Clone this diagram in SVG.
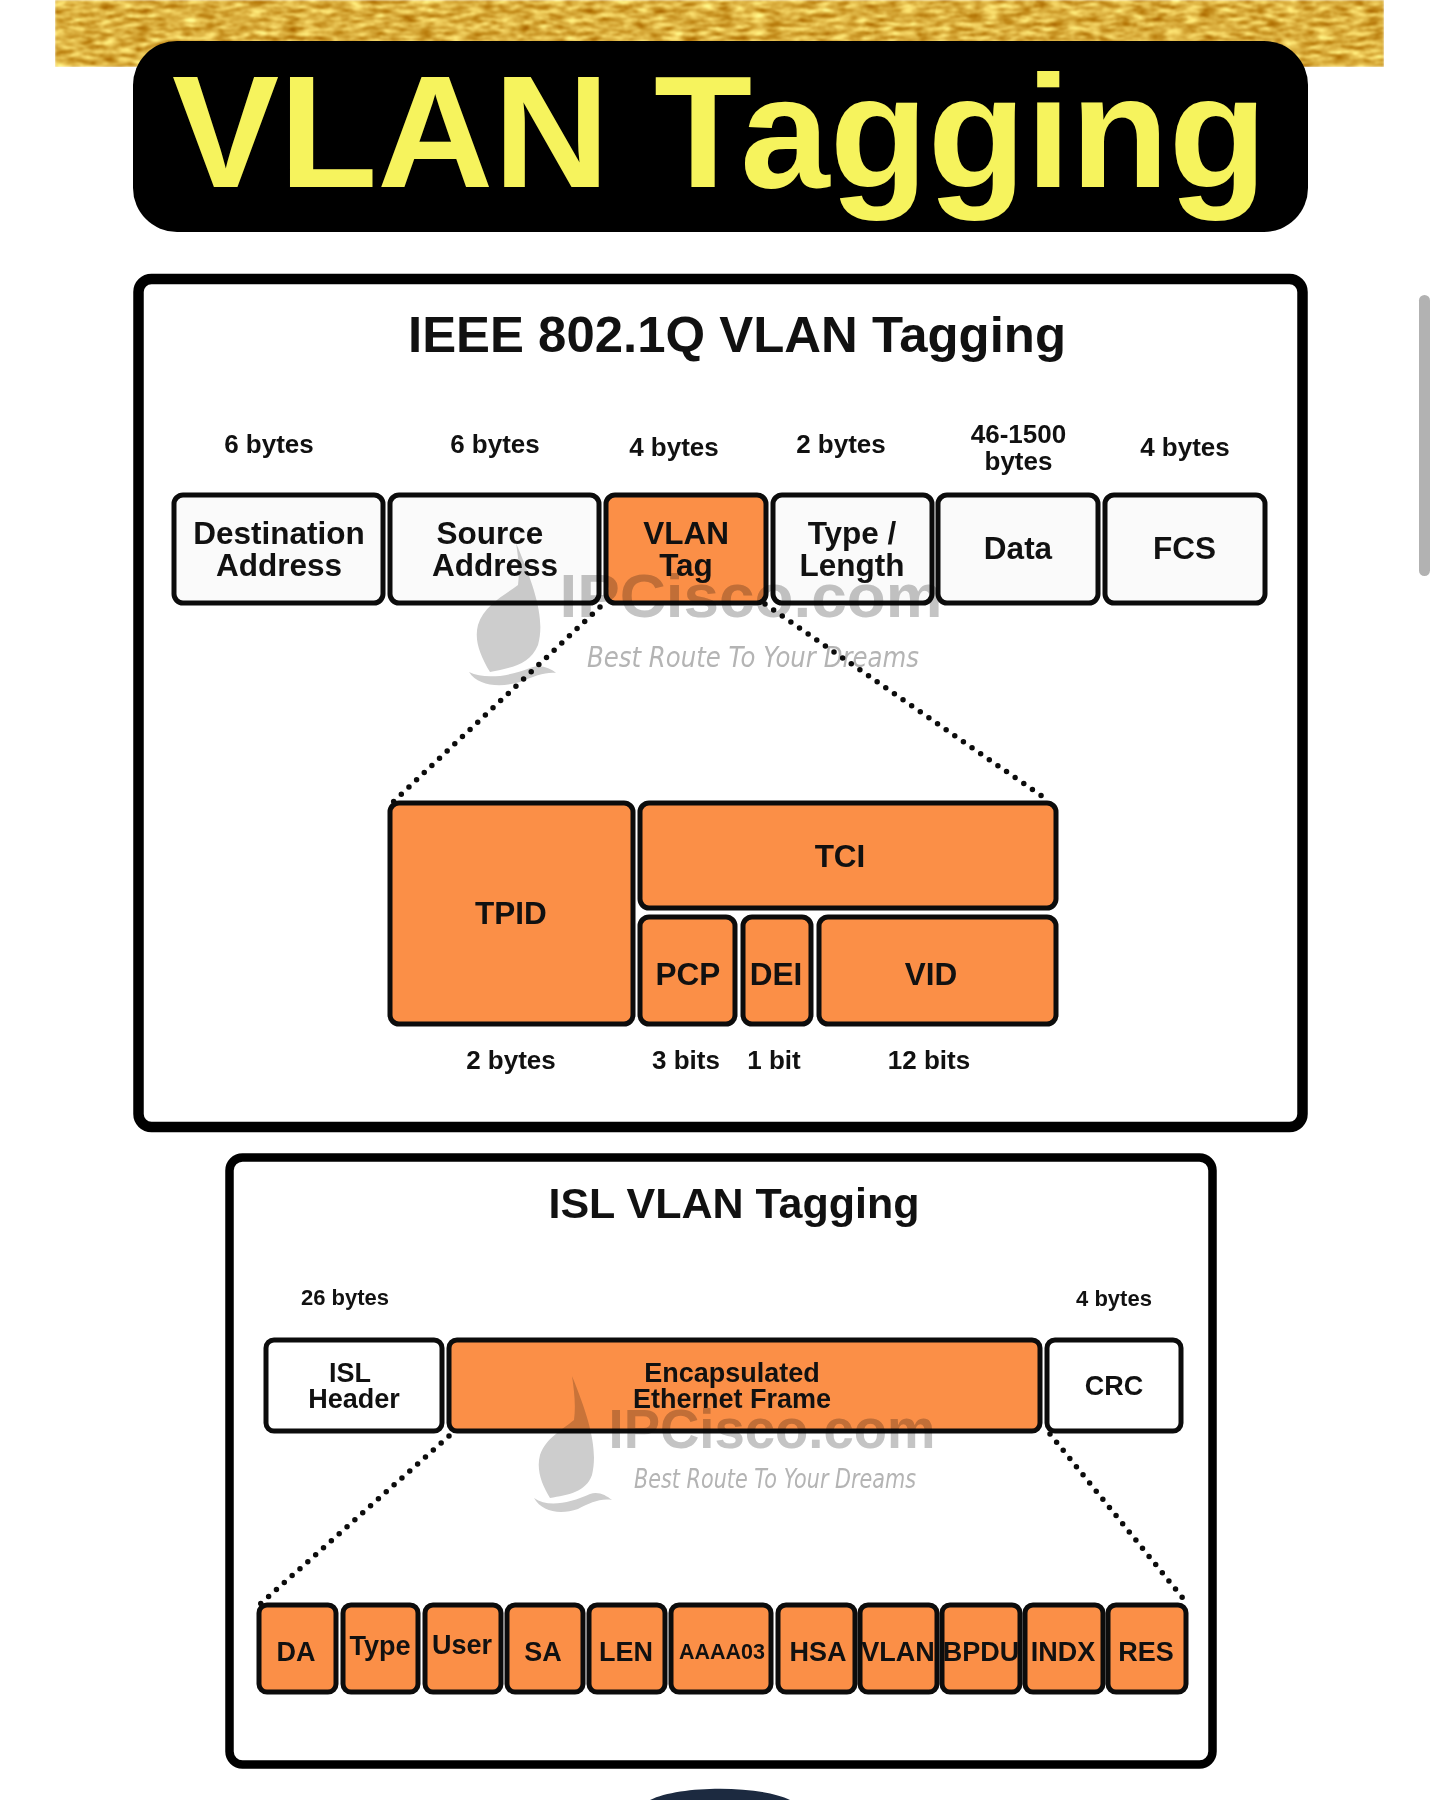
<svg xmlns="http://www.w3.org/2000/svg" width="1440" height="1813" viewBox="0 0 1440 1813">
<defs>
<filter id="gold" x="0" y="0" width="100%" height="100%" color-interpolation-filters="sRGB"><feTurbulence type="fractalNoise" baseFrequency="0.06 0.22" numOctaves="4" seed="11"/><feColorMatrix values="0.6 0 0 0 0.56  0.9 0 0 0 0.24  0.9 0 0 0 -0.2  0 0 0 0 1"/><feGaussianBlur stdDeviation="0.8"/></filter>
</defs>
<style>
text{font-family:"Liberation Sans",Arial,sans-serif;font-weight:700;fill:#111;text-anchor:middle}
.w{fill:#fafafa;stroke:#0c0c0c;stroke-width:5}
.wh{fill:#fff;stroke:#0c0c0c;stroke-width:5}
.o{fill:#fb8f47;stroke:#0c0c0c;stroke-width:5}
.p1{fill:#fff;stroke:#000;stroke-width:10.5}
.p2{fill:#fff;stroke:#000;stroke-width:8.5}
.lab{font-size:31.5px}
.sz{font-size:26px}
.sm{font-size:22px}
.mid{font-size:27px}
.tiny{font-size:27px}
.dots{fill:none;stroke:#0c0c0c;stroke-width:5.5;stroke-linecap:round;stroke-dasharray:0 10.5}
.wm{fill:#cdcdcd;mix-blend-mode:multiply}
.wmt{fill:#c4c4c4;mix-blend-mode:multiply}
.hand{fill:#b4b4b4;font-family:"DejaVu Sans",sans-serif;font-style:italic;font-weight:400}
</style>
<rect width="1440" height="1813" fill="#fff"/>
<g id="banner">
<rect x="55" y="0" width="1329" height="67" filter="url(#gold)"/>
<rect x="133" y="41" width="1175" height="191" rx="44" fill="#000"/>
<text x="719.5" y="187" font-size="160" style="fill:#f6f35d" textLength="1095" lengthAdjust="spacingAndGlyphs">VLAN Tagging</text>
</g>
<rect x="1419" y="295" width="11" height="281" rx="5.5" fill="#b2b2b2"/>
<g id="panel-8021q">
<rect class="p1" x="138.500" y="279" width="1164" height="848" rx="13"/>
<text x="737" y="352" font-size="50" textLength="658" lengthAdjust="spacingAndGlyphs">IEEE 802.1Q VLAN Tagging</text>
</g>
<g id="panel-isl">
<rect class="p2" x="229.500" y="1157.500" width="983" height="607" rx="13"/>
<text x="734" y="1218" font-size="43">ISL VLAN Tagging</text>
</g>
<g id="connectors">
<path class="dots" d="M600 607L392 803"/>
<path class="dots" d="M765 604L1046 799"/>
<path class="dots" d="M449 1436L258 1606"/>
<path class="dots" d="M1050 1434L1186 1602"/>
</g>
<g id="sizes-8021q">
<text class="sz" x="269" y="453">6 bytes</text>
<text class="sz" x="495" y="453">6 bytes</text>
<text class="sz" x="674" y="456">4 bytes</text>
<text class="sz" x="841" y="453">2 bytes</text>
<text class="sz" x="1018.500" y="443">46-1500</text>
<text class="sz" x="1018.500" y="470">bytes</text>
<text class="sz" x="1185" y="456">4 bytes</text>
<text class="sz" x="511" y="1069">2 bytes</text>
<text class="sz" x="686" y="1069">3 bits</text>
<text class="sz" x="774" y="1069">1 bit</text>
<text class="sz" x="929" y="1069">12 bits</text>
</g>
<g id="dest"><rect class="w" x="174" y="495" width="209" height="108" rx="9"/><text class="lab" x="279" y="544">Destination</text><text class="lab" x="279" y="576">Address</text></g>
<g id="source"><rect class="w" x="390" y="495" width="209" height="108" rx="9"/><text class="lab" x="490" y="544">Source</text><text class="lab" x="495" y="576">Address</text></g>
<g id="vlan-tag"><rect class="o" x="606" y="495" width="160" height="108" rx="9"/><text class="lab" x="686" y="544">VLAN</text><text class="lab" x="686" y="576">Tag</text></g>
<g id="type-length"><rect class="w" x="773" y="495" width="159" height="108" rx="9"/><text class="lab" x="852" y="544">Type /</text><text class="lab" x="852" y="576">Length</text></g>
<g id="data"><rect class="w" x="938" y="495" width="160" height="108" rx="9"/><text class="lab" x="1018" y="559">Data</text></g>
<g id="fcs"><rect class="w" x="1105" y="495" width="160" height="108" rx="9"/><text class="lab" x="1184.500" y="559">FCS</text></g>
<g id="tpid"><rect class="o" x="390" y="803" width="243" height="221" rx="9"/><text class="lab" x="511" y="924">TPID</text></g>
<g id="tci"><rect class="o" x="640" y="803" width="416" height="105" rx="9"/><text class="lab" x="840" y="867">TCI</text></g>
<g id="pcp"><rect class="o" x="640" y="917" width="95" height="107" rx="9"/><text class="lab" x="688" y="985">PCP</text></g>
<g id="dei"><rect class="o" x="743" y="917" width="68" height="107" rx="9"/><text class="lab" x="776" y="985">DEI</text></g>
<g id="vid"><rect class="o" x="819" y="917" width="237" height="107" rx="9"/><text class="lab" x="931" y="985">VID</text></g>
<text class="sm" x="345" y="1305">26 bytes</text>
<text class="sm" x="1114" y="1306">4 bytes</text>
<g id="isl-header"><rect class="wh" x="266" y="1340" width="176" height="91" rx="8"/><text class="mid" x="350" y="1382">ISL</text><text class="mid" x="354" y="1408">Header</text></g>
<g id="encap"><rect class="o" x="449" y="1340" width="591" height="91" rx="8"/><text class="mid" x="732" y="1382">Encapsulated</text><text class="mid" x="732" y="1408">Ethernet Frame</text></g>
<g id="crc"><rect class="wh" x="1047" y="1340" width="134" height="91" rx="8"/><text class="mid" x="1114" y="1395">CRC</text></g>
<g id="da"><rect class="o" x="259" y="1605" width="77" height="87" rx="8"/><text class="tiny" x="296" y="1661">DA</text></g>
<g id="type"><rect class="o" x="343" y="1605" width="75" height="87" rx="8"/><text class="tiny" x="380" y="1655">Type</text></g>
<g id="user"><rect class="o" x="425" y="1605" width="76" height="87" rx="8"/><text class="tiny" x="462" y="1654">User</text></g>
<g id="sa"><rect class="o" x="507" y="1605" width="76" height="87" rx="8"/><text class="tiny" x="543" y="1661">SA</text></g>
<g id="len"><rect class="o" x="589" y="1605" width="76" height="87" rx="8"/><text class="tiny" x="626" y="1661">LEN</text></g>
<g id="aaaa03"><rect class="o" x="671" y="1605" width="100" height="87" rx="8"/><text style="font-size:21.500px" x="722" y="1659">AAAA03</text></g>
<g id="hsa"><rect class="o" x="778" y="1605" width="77" height="87" rx="8"/><text class="tiny" x="818" y="1661">HSA</text></g>
<g id="vlan"><rect class="o" x="860" y="1605" width="77" height="87" rx="8"/><text class="tiny" x="898" y="1661">VLAN</text></g>
<g id="bpdu"><rect class="o" x="942" y="1605" width="78" height="87" rx="8"/><text class="tiny" x="981" y="1661">BPDU</text></g>
<g id="indx"><rect class="o" x="1025" y="1605" width="78" height="87" rx="8"/><text class="tiny" x="1063" y="1661">INDX</text></g>
<g id="res"><rect class="o" x="1108" y="1605" width="78" height="87" rx="8"/><text class="tiny" x="1146" y="1661">RES</text></g>
<g id="watermark-1">
<path class="wm" d="M516 543C536 590 545 620 538 645C530 665 510 668 490 672C480 655 474 640 478 625C484 605 505 595 518 585C520 570 518 555 516 543Z"/>
<path class="wm" d="M469 672C485 680 510 676 530 668C540 664 550 668 556 673C545 672 535 676 520 682C500 688 478 686 469 672Z"/>
<text class="wmt" x="751" y="617" font-size="62" textLength="383" lengthAdjust="spacingAndGlyphs">IPCisco.com</text>
<text class="wmt hand" x="753" y="667" font-size="29" textLength="332" lengthAdjust="spacingAndGlyphs">Best Route To Your Dreams</text>
</g>
<g id="watermark-2">
<path class="wm" d="M572 1376C590 1420 598 1450 592 1475C586 1492 568 1495 550 1498C542 1485 536 1470 540 1455C546 1438 562 1430 574 1420C576 1405 574 1390 572 1376Z"/>
<path class="wm" d="M534 1498C548 1508 570 1503 590 1494C598 1491 606 1495 612 1500C600 1498 590 1503 578 1509C560 1515 542 1512 534 1498Z"/>
<text class="wmt" x="772" y="1448" font-size="56" textLength="327" lengthAdjust="spacingAndGlyphs">IPCisco.com</text>
<text class="wmt hand" x="775" y="1488" font-size="26" textLength="282" lengthAdjust="spacingAndGlyphs">Best Route To Your Dreams</text>
</g>
<path id="arc" d="M650 1800C680 1785 760 1785 790 1800Z" fill="#1c2a40"/>
</svg>
